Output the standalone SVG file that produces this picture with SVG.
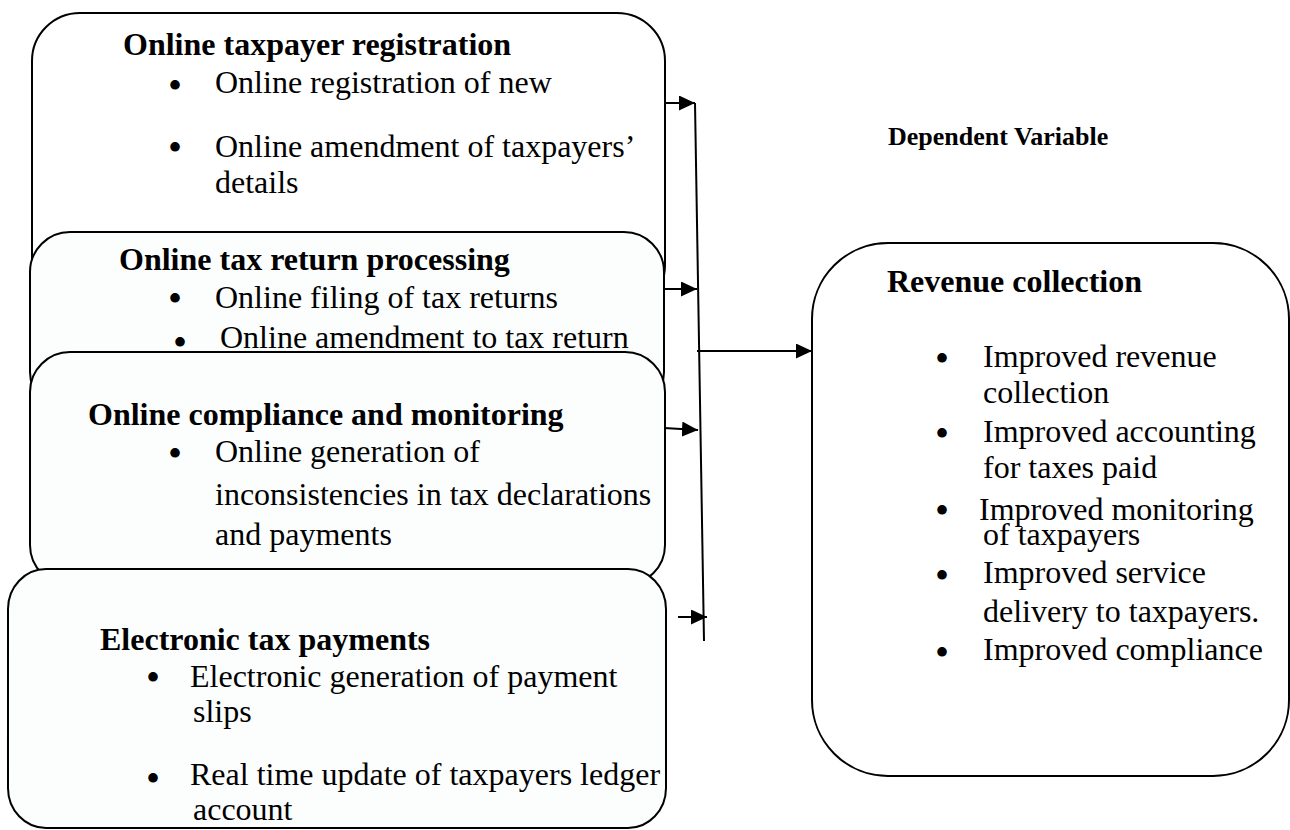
<svg xmlns="http://www.w3.org/2000/svg" width="1290" height="830" viewBox="0 0 1290 830">
<style>
.box{stroke:#000;stroke-width:2;fill:#fff}
.tint{fill:#fcfefe}
.h{font-family:"Liberation Serif","Times New Roman",serif;font-weight:bold;font-size:32px;fill:#000}
.t{font-family:"Liberation Serif","Times New Roman",serif;font-size:32px;fill:#000}
.b{font-family:"Liberation Serif","Times New Roman",serif;font-size:40px;fill:#000}
.dv{font-family:"Liberation Serif","Times New Roman",serif;font-weight:bold;font-size:26px;fill:#000}
.c{stroke:#000;stroke-width:2;fill:none}
</style>
<defs>
<marker id="ah" markerUnits="userSpaceOnUse" markerWidth="17" markerHeight="15" refX="16" refY="7.5" orient="auto">
<path d="M0,0 L16,7.5 L0,15 z" fill="#000"/>
</marker>
</defs>
<rect width="1290" height="830" fill="#fff"/>

<g id="registration">
<rect class="box" x="32" y="13" width="633" height="300" rx="48" ry="48"/>
<text class="h" x="123" y="55">Online taxpayer registration</text>
<text class="b" x="168" y="99">•</text>
<text class="t" x="215" y="93">Online registration of new</text>
<text class="b" x="168" y="161">•</text>
<text class="t" x="215" y="157">Online amendment of taxpayers’</text>
<text class="t" x="215" y="193">details</text>
</g>

<g id="return-processing">
<rect class="box tint" x="30" y="232" width="634" height="180" rx="40" ry="40"/>
<text class="h" x="119" y="270">Online tax return processing</text>
<text class="b" x="168" y="312">•</text>
<text class="t" x="215" y="308">Online filing of tax returns</text>
<text class="b" x="173" y="356">•</text>
<text class="t" x="220" y="348">Online amendment to tax return</text>
</g>

<g id="compliance">
<rect class="box tint" x="30" y="352" width="635" height="233" rx="40" ry="40"/>
<text class="h" x="88" y="425">Online compliance and monitoring</text>
<text class="b" x="168" y="467">•</text>
<text class="t" x="215" y="462">Online generation of</text>
<text class="t" x="215" y="505">inconsistencies in tax declarations</text>
<text class="t" x="215" y="545">and payments</text>
</g>

<g id="payments">
<rect class="box tint" x="8" y="569" width="658" height="259" rx="38" ry="40"/>
<text class="h" x="100" y="650">Electronic tax payments</text>
<text class="b" x="146" y="691">•</text>
<text class="t" x="190" y="687">Electronic generation of payment</text>
<text class="t" x="193" y="722">slips</text>
<text class="b" x="146" y="792">•</text>
<text class="t" x="190" y="785">Real time update of taxpayers ledger</text>
<text class="t" x="193" y="820">account</text>
</g>

<g id="dependent-label">
<text class="dv" x="888" y="145">Dependent Variable</text>
</g>

<g id="revenue">
<rect class="box" x="812" y="243" width="477" height="533" rx="76" ry="76"/>
<text class="h" x="887" y="292">Revenue collection</text>
<text class="b" x="935" y="372">•</text>
<text class="t" x="983" y="367">Improved revenue</text>
<text class="t" x="983" y="403">collection</text>
<text class="b" x="935" y="447">•</text>
<text class="t" x="983" y="442">Improved accounting</text>
<text class="t" x="983" y="478">for taxes paid</text>
<text class="b" x="935" y="524">•</text>
<text class="t" x="979" y="520">Improved monitoring</text>
<text class="t" x="983" y="545">of taxpayers</text>
<text class="b" x="935" y="589">•</text>
<text class="t" x="983" y="583">Improved service</text>
<text class="t" x="983" y="622">delivery to taxpayers.</text>
<text class="b" x="935" y="666">•</text>
<text class="t" x="983" y="660">Improved compliance</text>
</g>

<g id="connectors">
<line class="c" x1="695" y1="103" x2="704" y2="641"/>
<line class="c" x1="665" y1="103" x2="695" y2="103" marker-end="url(#ah)"/>
<line class="c" x1="664" y1="289" x2="697" y2="289" marker-end="url(#ah)"/>
<line class="c" x1="697" y1="351" x2="812" y2="351" marker-end="url(#ah)"/>
<line class="c" x1="664" y1="428" x2="698" y2="430" marker-end="url(#ah)"/>
<line class="c" x1="678" y1="617" x2="707" y2="617" marker-end="url(#ah)"/>
</g>
</svg>
